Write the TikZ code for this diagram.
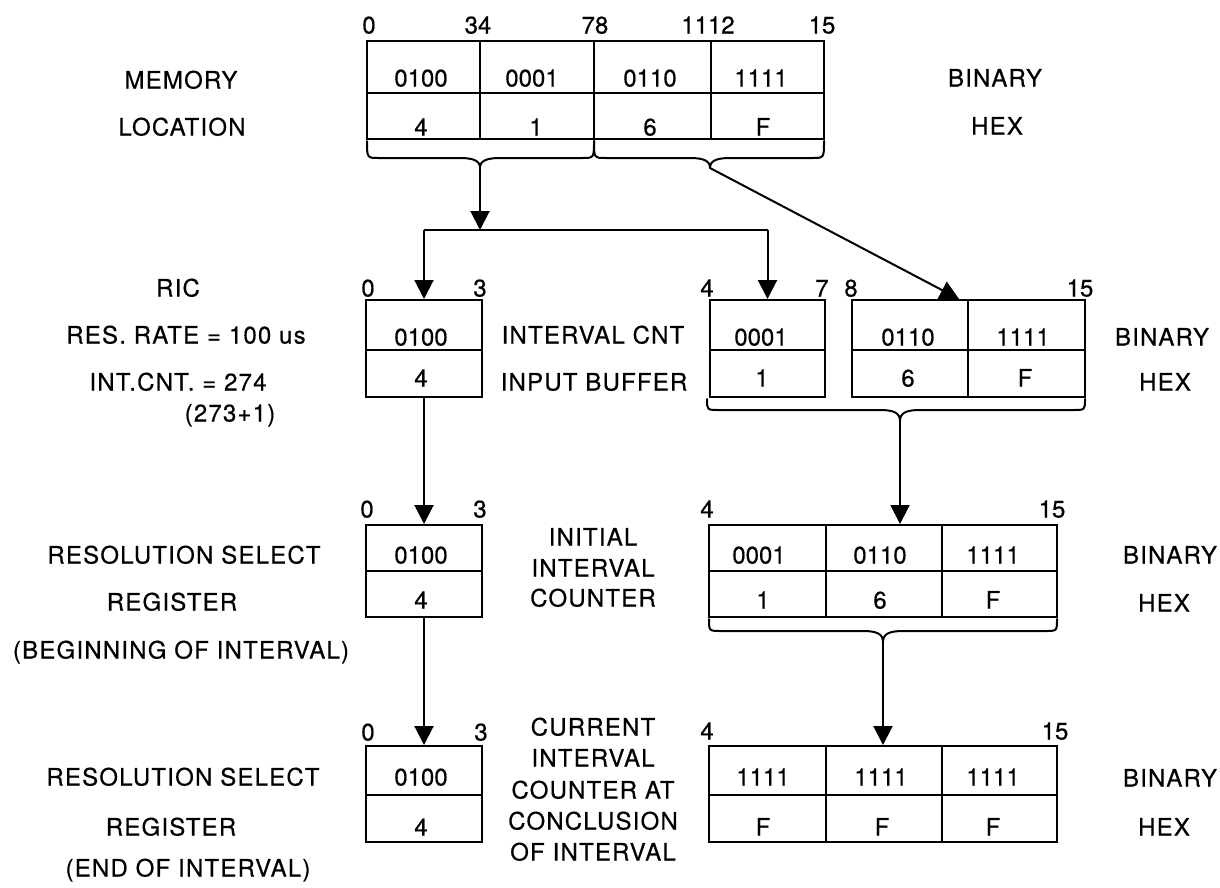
\documentclass[tikz,border=0pt]{standalone}
\usepackage{fontspec}
\setmainfont[FakeBold=0.5]{TeX Gyre Heros}
\newfontfamily\lblfont[LetterSpace=5,FakeBold=0.5]{TeX Gyre Heros}
\usetikzlibrary{arrows.meta,calc}
\newcommand\dbrace[6]{% x1,x2,y0,yh,xm,yt
 \draw[brc] (#1,#3) .. controls (#1,#4) .. (#1+12,#4) -- (#5-20,#4) .. controls (#5-6,#4) and (#5,#4+3) .. (#5,#6) .. controls (#5,#4+3) and (#5+6,#4) .. (#5+20,#4) -- (#2-12,#4) .. controls (#2,#4) .. (#2,#3);}
\begin{document}
\begin{tikzpicture}[x=1pt,y=-1pt, font=\fontsize{24}{28}\selectfont,
 cell/.style={draw, line width=2pt, inner sep=0pt},
 txt/.style={inner sep=0pt, text height=17pt, text depth=0pt},
 lbl/.style={txt, font=\fontsize{24}{28}\lblfont},
 ln/.style={line width=2pt},
 arr/.style={line width=2pt, -{Triangle[length=19pt,width=19pt]}},
 brc/.style={line width=2pt, line cap=round, line join=round}]
\useasboundingbox (0,0) rectangle (1220,887);

% ---------- Row 1: memory location ----------
\node[cell,minimum width=113pt,minimum height=52pt] (m1b) at (423.5,67) {};
\node[cell,minimum width=114pt,minimum height=52pt] (m2b) at (537,67) {};
\node[cell,minimum width=117pt,minimum height=52pt] (m3b) at (652.5,67) {};
\node[cell,minimum width=113pt,minimum height=52pt] (m4b) at (767.5,67) {};
\node[cell,minimum width=113pt,minimum height=46pt] (m1h) at (423.5,116) {};
\node[cell,minimum width=114pt,minimum height=46pt] (m2h) at (537,116) {};
\node[cell,minimum width=117pt,minimum height=46pt] (m3h) at (652.5,116) {};
\node[cell,minimum width=113pt,minimum height=46pt] (m4h) at (767.5,116) {};
\node[txt] (m1bt) at (421,78) {0100};
\node[txt] (m2bt) at (532,78) {0001};
\node[txt] (m3bt) at (650,78) {0110};
\node[txt] (m4bt) at (761,78) {1111};
\node[txt] (m1ht) at (421,127) {4};
\node[txt] (m2ht) at (536,127) {1};
\node[txt] (m3ht) at (650,127) {6};
\node[txt] (m4ht) at (763,127) {F};
\node[txt] (i10) at (369,25) {0};
\node[txt] (i11) at (478,25) {34};
\node[txt] (i12) at (595,25) {78};
\node[txt] (i13) at (708,25) {1112};
\node[txt] (i14) at (822,25) {15};
\node[lbl] (lmem) at (181,80) {MEMORY};
\node[lbl] (lloc) at (182,127) {LOCATION};
\node[lbl] (lbin1) at (995,78) {BINARY};
\node[lbl] (lhex1) at (997,126) {HEX};

% ---------- Row 2: RIC ----------
\node[cell,minimum width=116pt,minimum height=50pt] (r2ab) at (424,325) {};
\node[cell,minimum width=116pt,minimum height=47pt] (r2ah) at (424,373.5) {};
\node[cell,minimum width=115pt,minimum height=50pt] (r2bb) at (767.5,325) {};
\node[cell,minimum width=115pt,minimum height=47pt] (r2bh) at (767.5,373.5) {};
\node[cell,minimum width=116pt,minimum height=50pt] (r2cb) at (910,325) {};
\node[cell,minimum width=116pt,minimum height=47pt] (r2ch) at (910,373.5) {};
\node[cell,minimum width=117pt,minimum height=50pt] (r2db) at (1026.5,325) {};
\node[cell,minimum width=117pt,minimum height=47pt] (r2dh) at (1026.5,373.5) {};
\node[txt] (r2abt) at (421,337) {0100};
\node[txt] (r2aht) at (421,378) {4};
\node[txt] (r2bbt) at (761,337) {0001};
\node[txt] (r2bht) at (762,378) {1};
\node[txt] (r2cbt) at (908,337) {0110};
\node[txt] (r2cht) at (908,378) {6};
\node[txt] (r2dbt) at (1023,337) {1111};
\node[txt] (r2dht) at (1025,378) {F};
\node[txt] (i20) at (368,288) {0};
\node[txt] (i21) at (480,288) {3};
\node[txt] (i22) at (707,288) {4};
\node[txt] (i23) at (822,288) {7};
\node[txt] (i24) at (851,288) {8};
\node[txt] (i25) at (1080,288) {15};
\node[lbl] (lric) at (178,288) {RIC};
\node[lbl] (lrate) at (186,335) {RES.\ RATE = 100 us};
\node[lbl] (lcnt) at (178,382) {INT.CNT. = 274};
\node[lbl] (lsum) at (230,413) {(273+1)};
\node[lbl] (lic) at (593,335) {INTERVAL CNT};
\node[lbl] (lib) at (594,382) {INPUT BUFFER};
\node[lbl] (lbin2) at (1162,337) {BINARY};
\node[lbl] (lhex2) at (1165,382) {HEX};

% ---------- Row 3: initial ----------
\node[cell,minimum width=116pt,minimum height=46pt] (r3ab) at (424,548) {};
\node[cell,minimum width=116pt,minimum height=46pt] (r3ah) at (424,594) {};
\node[cell,minimum width=117pt,minimum height=46pt] (r3bb) at (767.5,548) {};
\node[cell,minimum width=117pt,minimum height=46pt] (r3bh) at (767.5,594) {};
\node[cell,minimum width=116pt,minimum height=46pt] (r3cb) at (884,548) {};
\node[cell,minimum width=116pt,minimum height=46pt] (r3ch) at (884,594) {};
\node[cell,minimum width=115pt,minimum height=46pt] (r3db) at (999.5,548) {};
\node[cell,minimum width=115pt,minimum height=46pt] (r3dh) at (999.5,594) {};
\node[txt] (r3abt) at (421,555) {0100};
\node[txt] (r3aht) at (421,600) {4};
\node[txt] (r3bbt) at (759,555) {0001};
\node[txt] (r3bht) at (763,600) {1};
\node[txt] (r3cbt) at (880,555) {0110};
\node[txt] (r3cht) at (880,600) {6};
\node[txt] (r3dbt) at (993,555) {1111};
\node[txt] (r3dht) at (993,600) {F};
\node[txt] (i30) at (367,509) {0};
\node[txt] (i31) at (480,509) {3};
\node[txt] (i32) at (707,509) {4};
\node[txt] (i33) at (1052,509) {15};
\node[lbl] (lrs3) at (184,555) {RESOLUTION SELECT};
\node[lbl] (lrg3) at (172,602) {REGISTER};
\node[lbl] (lbeg) at (181,650) {(BEGINNING OF INTERVAL)};
\node[lbl] (lini1) at (593,537) {INITIAL};
\node[lbl] (lini2) at (593,568) {INTERVAL};
\node[lbl] (lini3) at (593,598) {COUNTER};
\node[lbl] (lbin3) at (1170,555) {BINARY};
\node[lbl] (lhex3) at (1164,603) {HEX};

% ---------- Row 4: current ----------
\node[cell,minimum width=116pt,minimum height=49pt] (r4ab) at (424,770.5) {};
\node[cell,minimum width=116pt,minimum height=47pt] (r4ah) at (424,818.5) {};
\node[cell,minimum width=117pt,minimum height=49pt] (r4bb) at (767.5,770.5) {};
\node[cell,minimum width=117pt,minimum height=47pt] (r4bh) at (767.5,818.5) {};
\node[cell,minimum width=116pt,minimum height=49pt] (r4cb) at (884,770.5) {};
\node[cell,minimum width=116pt,minimum height=47pt] (r4ch) at (884,818.5) {};
\node[cell,minimum width=115pt,minimum height=49pt] (r4db) at (999.5,770.5) {};
\node[cell,minimum width=115pt,minimum height=47pt] (r4dh) at (999.5,818.5) {};
\node[txt] (r4abt) at (421,777) {0100};
\node[txt] (r4aht) at (421,827) {4};
\node[txt] (r4bbt) at (763,777) {1111};
\node[txt] (r4bht) at (763,827) {F};
\node[txt] (r4cbt) at (881,777) {1111};
\node[txt] (r4cht) at (882,827) {F};
\node[txt] (r4dbt) at (993,777) {1111};
\node[txt] (r4dht) at (993,827) {F};
\node[txt] (i40) at (368,732) {0};
\node[txt] (i41) at (481,732) {3};
\node[txt] (i42) at (707,731) {4};
\node[txt] (i43) at (1055,731) {15};
\node[lbl] (lrs4) at (183,777) {RESOLUTION SELECT};
\node[lbl] (lrg4) at (171,827) {REGISTER};
\node[lbl] (lend) at (188,868) {(END OF INTERVAL)};
\node[lbl] (lcur1) at (593,727) {CURRENT};
\node[lbl] (lcur2) at (593,758) {INTERVAL};
\node[lbl] (lcur3) at (593,790) {COUNTER AT};
\node[lbl] (lcur4) at (593,821) {CONCLUSION};
\node[lbl] (lcur5) at (593,852) {OF INTERVAL};
\node[lbl] (lbin4) at (1170,778) {BINARY};
\node[lbl] (lhex4) at (1164,827) {HEX};

% ---------- Braces ----------
\dbrace{367}{594}{141}{158}{480}{168}
\dbrace{594}{824}{141}{158}{710}{168}
\dbrace{707}{1085}{399}{410}{900}{421}
\dbrace{709}{1057}{619}{631}{883}{642}
\coordinate (tA) at (480,168);
\coordinate (tB) at (710,168);
\coordinate (tC) at (900,421);
\coordinate (tD) at (883,642);
\coordinate (jm) at (480,230);

% ---------- Connectors ----------
\draw[arr] (tA) -- (jm);
\draw[ln] (r2ab.north |- jm) -- (r2bb.north |- jm);
\draw[arr] (r2ab.north |- jm) -- (r2ab.north);
\draw[arr] (r2bb.north |- jm) -- (r2bb.north);
\draw[arr] (tB) -- ($(r2cb.north east)+(-10,0)$);
\draw[arr] (r2ah.south) -- (r3ab.north);
\draw[arr] (tC) -- (tC |- r3cb.north);
\draw[arr] (r3ah.south) -- (r4ab.north);
\draw[arr] (tD) -- (tD |- r4cb.north);
\end{tikzpicture}
\end{document}
